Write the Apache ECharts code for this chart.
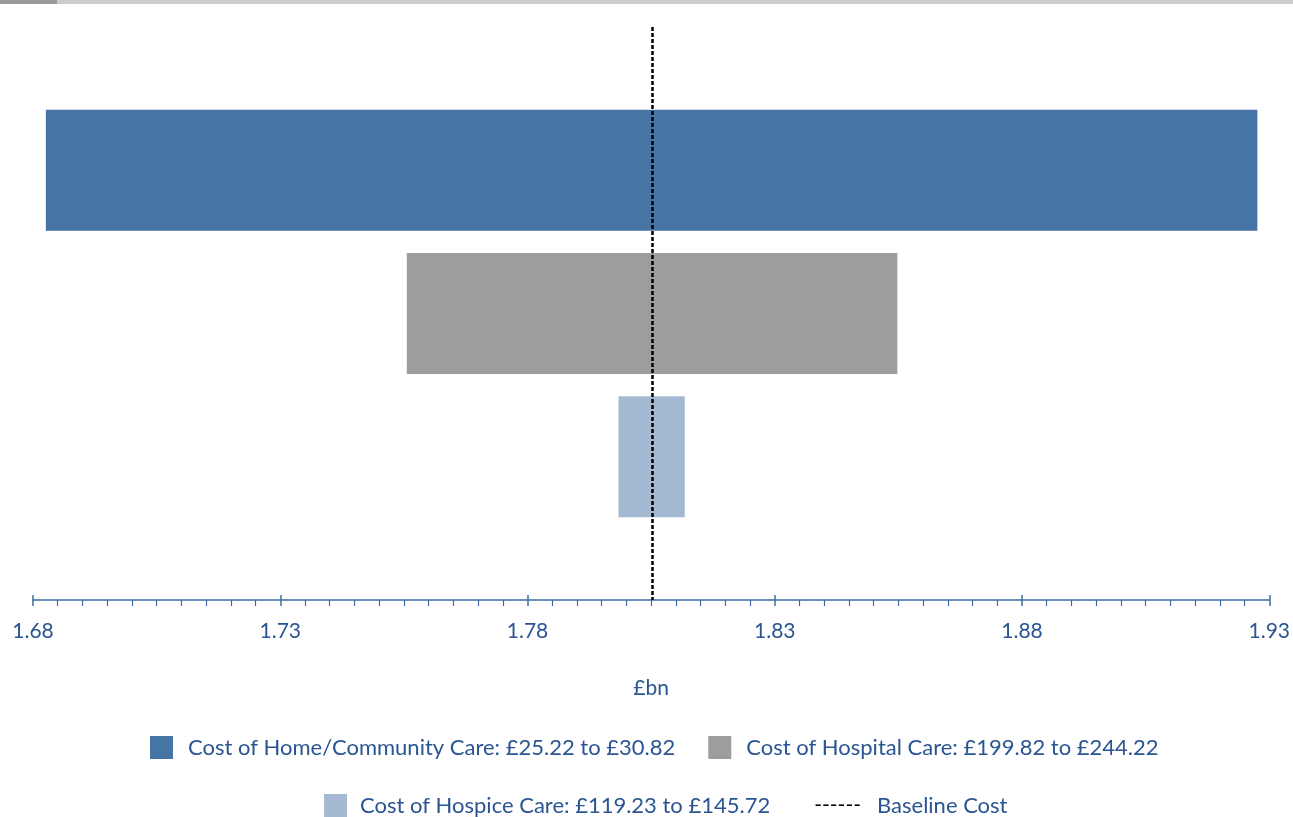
<!DOCTYPE html>
<html>
<head>
<meta charset="utf-8">
<script src="https://cdn.jsdelivr.net/npm/echarts@6/dist/echarts.min.js"></script>
<style>
html,body{margin:0;padding:0;background:#fff;}
#chart{width:1293px;height:817px;}
</style>
</head>
<body>
<div id="chart"></div>
<script>
// ---- data ----
const seriesNames = [
  'Cost of Home/Community Care: £25.22 to £30.82',
  'Cost of Hospital Care: £199.82 to £244.22',
  'Cost of Hospice Care: £119.23 to £145.72'
];
const lowValues  = [1.6826, 1.7556, 1.7984];
const highValues = [1.9276, 1.8548, 1.8118];
const baselineName = 'Baseline Cost';
const baselineValue = 1.8053;
const xTicks = [1.68, 1.73, 1.78, 1.83, 1.88, 1.93];
const axisName = '£bn';
const barColors = ['#4674a5', '#9d9d9c', '#a4bad3'];

// categories: padded with empty slots so bars sit between the axis ends
const categories = ['', ...seriesNames, ''];

const textColor = '#2a5592';
const fontFamily = 'Lato, "Noto Sans", sans-serif';

const baseData = categories.map((c, i) => (i >= 1 && i <= seriesNames.length) ? lowValues[i - 1] : '-');
const series = [{
  name: '_base', type: 'bar', stack: 'r', data: baseData, barWidth: 121,
  itemStyle: { color: 'rgba(0,0,0,0)' }, silent: true, legendHoverLink: false
}];
seriesNames.forEach((n, k) => {
  series.push({
    name: n, type: 'bar', stack: 'r', barWidth: 121,
    itemStyle: { color: barColors[k] },
    data: categories.map((c, i) => i === k + 1 ? +(highValues[k] - lowValues[k]).toFixed(6) : '-')
  });
});
series.push({
  name: baselineName, type: 'line', data: [], symbol: 'none',
  lineStyle: { color: '#000', type: [4, 2], width: 2.5 },
  markLine: {
    symbol: ['none', 'none'], silent: true, label: { show: false }, precision: 6,
    lineStyle: { color: '#000', type: [4, 2], width: 2.5 },
    data: [{ xAxis: baselineValue }]
  }
});

const chart = echarts.init(document.getElementById('chart'));
const xMin = xTicks[0], xMax = xTicks[xTicks.length - 1];
const xInterval = +(xTicks[1] - xTicks[0]).toFixed(4);
chart.setOption({
  animation: false,
  textStyle: { fontFamily: fontFamily },
  graphic: [
    { type: 'rect', left: 0, top: 0, shape: { width: 1293, height: 4 }, style: { fill: '#cccccc' } },
    { type: 'rect', left: 0, top: 0, shape: { width: 57, height: 4 }, style: { fill: '#999999' } }
  ],
  grid: { left: 33, right: 23, top: 27, bottom: 217, containLabel: false },
  xAxis: [{
    type: 'value', min: xMin, max: xMax, interval: xInterval,
    name: axisName, nameLocation: 'middle', nameGap: 78,
    nameTextStyle: { color: textColor, fontSize: 21, fontFamily: fontFamily },
    axisLine: { show: true, lineStyle: { color: '#3d6ca3', width: 1.5 } },
    axisTick: { show: true, length: 6, lineStyle: { color: '#3d6ca3', width: 1.5 } },
    minorTick: { show: true, splitNumber: 10, length: 6, lineStyle: { color: '#3d6ca3', width: 1.2 } },
    splitLine: { show: false },
    axisLabel: { color: textColor, fontSize: 21, margin: 21, fontFamily: fontFamily,
      formatter: v => v.toFixed(2) }
  }, {
    type: 'value', min: xMin, max: xMax, interval: xInterval, position: 'bottom',
    axisLine: { show: false },
    axisTick: { show: true, inside: true, length: 5, lineStyle: { color: '#3d6ca3', width: 1.5 } },
    axisLabel: { show: false }, splitLine: { show: false }
  }],
  yAxis: {
    type: 'category', data: categories, inverse: true, boundaryGap: false,
    axisLine: { show: false }, axisTick: { show: false }, axisLabel: { show: false },
    splitLine: { show: false }
  },
  legend: [{
    data: [seriesNames[0], seriesNames[1]],
    top: 736, left: 150, padding: 0, icon: 'rect', itemWidth: 23, itemHeight: 23,
    itemGap: 33,
    textStyle: { color: textColor, fontSize: 22, fontFamily: fontFamily, padding: [0, 0, 0, 10] }
  }, {
    data: [seriesNames[2], { name: baselineName, icon: 'none' }],
    top: 794, left: 324, padding: 0, icon: 'rect', itemWidth: 23, itemHeight: 23,
    itemGap: 8,
    formatter: n => n === baselineName ? '{d|------}' + n : n,
    textStyle: { color: textColor, fontSize: 22, fontFamily: fontFamily, padding: [0, 0, 0, 8],
      rich: { d: { color: '#000', fontSize: 21, fontFamily: fontFamily, padding: [0, 16, 0, 0] } } }
  }],
  series: series
});
</script>
</body>
</html>
